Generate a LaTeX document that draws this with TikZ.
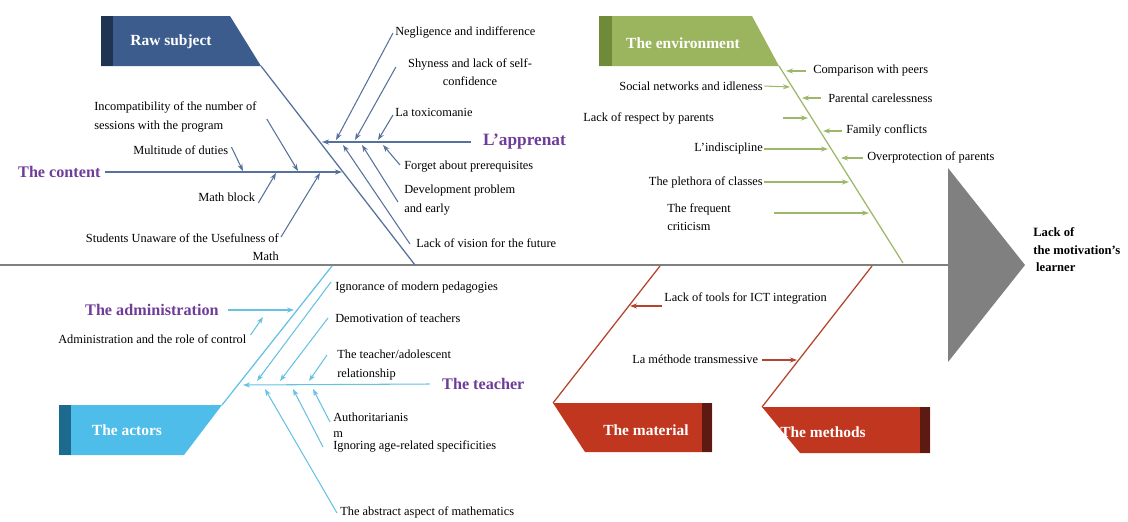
\documentclass[tikz,border=0pt]{standalone}
\usepackage{fontspec}
\setmainfont{Liberation Serif}
\usepackage{xcolor}
\usetikzlibrary{calc,arrows.meta}

\definecolor{rawblue}{HTML}{3B5C8C}
\definecolor{rawdark}{HTML}{1F3352}
\definecolor{rawline}{HTML}{56719B}
\definecolor{envgreen}{HTML}{9BB55F}
\definecolor{envdark}{HTML}{6F8B3A}
\definecolor{envline}{HTML}{9DB86A}
\definecolor{actblue}{HTML}{4FBDEA}
\definecolor{actdark}{HTML}{1C6B8F}
\definecolor{actline}{HTML}{66C1E2}
\definecolor{matred}{HTML}{C0361F}
\definecolor{matdark}{HTML}{5C1A12}
\definecolor{matline}{HTML}{B5442F}
\definecolor{headpurple}{HTML}{6F3C98}
\definecolor{spinegray}{HTML}{808080}

\begin{document}
\begin{tikzpicture}[x=0.025cm,y=-0.025cm,>={Stealth[length=5pt,width=3.6pt]},
	lbl/.style={inner sep=0pt,font=\fontsize{8.8}{13}\selectfont,align=left},
	grp/.style={inner sep=0pt,outer sep=3pt,text=headpurple,font=\fontsize{11.5}{14}\selectfont\bfseries},
	banner/.style={inner sep=0pt,text=white,font=\fontsize{11}{13}\selectfont\bfseries},
	bone/.style={line width=0.9pt},
	arr/.style={->,line width=0.75pt}]
	
	\useasboundingbox (0,0) rectangle (1128,521);
	
	% main axis and effect
	\coordinate (tail) at (0,265);
	\coordinate (T1) at (948,168);
	\coordinate (T2) at (1025,265);
	\coordinate (T3) at (948,362);
	\draw[spinegray,line width=1.4pt] (tail) -- (T1 |- tail);
	\fill[spinegray] (T1) -- (T2) -- (T3) -- cycle;
	\node[anchor=west,align=left,inner sep=0pt,font=\fontsize{9}{12.5}\selectfont\bfseries] (effect) at (1033,250) {Lack of\\the motivation’s\\\hspace{2pt}learner};
	
	% raw subject
	\fill[rawblue] (101,16) -- (230,16) -- (261,66) -- (101,66) -- cycle;
	\fill[rawdark] (101,16) rectangle (113,66);
	\node[banner] (raw) at (171,42) {Raw subject};
	\coordinate (rsA) at (261,66);
	\coordinate (rsB) at (415,265);
	\draw[rawline,bone] (rsA) -- (rsB);
	
	\node[grp,anchor=west] (content) at (14,172) {The content};
	\coordinate (contentEnd) at (342,172);
	\draw[rawline,arr] (content.east) -- (contentEnd);
	
	\node[lbl,anchor=west] (sessions) at (94,117) {Incompatibility of the number of\\sessions with the program};
	\node[lbl,anchor=west] (duties) at (133,150) {Multitude of duties};
	\node[lbl,anchor=west] (mathblock) at (198,197) {Math block};
	\node[lbl,anchor=east,align=right] (students) at (279,247) {Students Unaware of the Usefulness of\\Math};
	\coordinate (c1) at (243,171);
	\coordinate (c2) at (298,171);
	\coordinate (c3) at (276,173);
	\coordinate (c4) at (320,173);
	\draw[rawline,arr] ([shift={(3,-3)}]duties.east) -- (c1);
	\draw[rawline,arr] ([shift={(10,2)}]sessions.east) -- (c2);
	\draw[rawline,arr] ([shift={(3,6)}]mathblock.east) -- (c3);
	\draw[rawline,arr] ([shift={(2,-10)}]students.east) -- (c4);
	
	\node[grp,anchor=west,font=\fontsize{12.3}{14}\selectfont\bfseries] (learner) at (479,142) {L’apprenat};
	\coordinate (learnerEnd) at (322,142);
	\draw[rawline,arr] ([xshift=-6]learner.west) -- (learnerEnd);
	
	\node[lbl,anchor=west] (neglect) at (395,32) {Negligence and indifference};
	\node[lbl,align=center] (shyness) at (470,72) {Shyness and lack of self-\\confidence};
	\node[lbl,anchor=west] (toxico) at (395,112) {La toxicomanie};
	\node[lbl,anchor=west] (forget) at (404,167) {Forget about prerequisites};
	\node[lbl,anchor=west] (develop) at (404,200) {Development problem\\and early};
	\node[lbl,anchor=west] (vision) at (416,243) {Lack of vision for the future};
	\coordinate (l1) at (336,140);
	\coordinate (l2) at (355,140);
	\coordinate (l3) at (378,140);
	\coordinate (l4) at (383,145);
	\coordinate (l5) at (362,145);
	\coordinate (l6) at (343,145);
	\draw[rawline,arr] ([shift={(-2,1)}]neglect.west) -- (l1);
	\draw[rawline,arr] ([shift={(-12,-5)}]shyness.west) -- (l2);
	\draw[rawline,arr] ([shift={(-2,3)}]toxico.west) -- (l3);
	\draw[rawline,arr] ([shift={(-4,-2)}]forget.west) -- (l4);
	\draw[rawline,arr] ([shift={(-6,2)}]develop.west) -- (l5);
	\draw[rawline,arr] ([shift={(-6,1)}]vision.west) -- (l6);
	
	% environment
	\fill[envgreen] (599,16) -- (752,16) -- (779,66) -- (599,66) -- cycle;
	\fill[envdark] (599,16) rectangle (612,66);
	\node[banner] (env) at (683,43) {The environment};
	\coordinate (envA) at (779,66);
	\coordinate (envB) at (903,263);
	\draw[envline,bone] (envA) -- (envB);
	
	\node[lbl,anchor=east] (social) at (763,86) {Social networks and idleness};
	\node[lbl,anchor=west] (respect) at (583,118) {Lack of respect by parents};
	\node[lbl,anchor=east] (indisc) at (763,149) {L’indiscipline};
	\node[lbl,anchor=east] (plethora) at (763,182) {The plethora of classes};
	\node[lbl,anchor=west] (frequent) at (667,217) {The frequent\\criticism};
	\node[lbl,anchor=west] (peers) at (813,71) {Comparison with peers};
	\node[lbl,anchor=west] (careless) at (828,98) {Parental carelessness};
	\node[lbl,anchor=west] (family) at (846,130) {Family conflicts};
	\node[lbl,anchor=west] (overprot) at (867,157) {Overprotection of parents};
	\coordinate (e1) at (790,87);
	\coordinate (e2) at (808,118);
	\coordinate (e3) at (828,149);
	\coordinate (e4) at (849,182);
	\coordinate (e5) at (869,213);
	\coordinate (e6) at (786,71);
	\coordinate (e7) at (802,98);
	\coordinate (e8) at (823,131);
	\coordinate (e9) at (841,158);
	\draw[envline,arr] ([xshift=1]social.east) -- (e1);
	\draw[envline,arr] ([xshift=49]respect.east) -- (e2);
	\draw[envline,arr] ([xshift=1]indisc.east) -- (e3);
	\draw[envline,arr] ([xshift=1]plethora.east) -- (e4);
	\draw[envline,arr] ([shift={(43,-4)}]frequent.east) -- (e5);
	\draw[envline,arr] ([xshift=-5]peers.west) -- (e6);
	\draw[envline,arr] ([xshift=-5]careless.west) -- (e7);
	\draw[envline,arr] ([shift={(-4,1)}]family.west) -- (e8);
	\draw[envline,arr] ([shift={(-4,1)}]overprot.west) -- (e9);
	
	% actors
	\fill[actblue] (59,405) -- (222,405) -- (184,455) -- (59,455) -- cycle;
	\fill[actdark] (59,405) rectangle (71,455);
	\node[banner] (actors) at (127,430) {The actors};
	\coordinate (actA) at (222,405);
	\coordinate (actB) at (332,266);
	\draw[actline,bone] (actA) -- (actB);
	
	\node[grp,anchor=west] (admin) at (81,310) {The administration};
	\coordinate (adminEnd) at (294,310);
	\draw[actline,arr] ([xshift=4]admin.east) -- (adminEnd);
	\node[lbl,anchor=west] (control) at (58,339) {Administration and the role of control};
	\coordinate (a0) at (263,317);
	\draw[actline,arr] ([shift={(4,-4)}]control.east) -- (a0);
	
	\node[grp,anchor=west] (teacher) at (438,384) {The teacher};
	\coordinate (teacherEnd) at (243,385);
	\draw[actline,arr] ([xshift=-6]teacher.west) -- (teacherEnd);
	
	\node[lbl,anchor=west] (ignor) at (335,287) {Ignorance of modern pedagogies};
	\node[lbl,anchor=west] (demot) at (335,318) {Demotivation of teachers};
	\node[lbl,anchor=west] (adol) at (337,365) {The teacher/adolescent\\relationship};
	\node[lbl,anchor=west,font=\fontsize{8.8}{11}\selectfont] (author) at (333,425) {Authoritarianis\\m};
	\node[lbl,anchor=west] (agespec) at (333,446) {Ignoring age-related specificities};
	\node[lbl,anchor=west] (abstr) at (340,512) {The abstract aspect of mathematics};
	\coordinate (a1) at (257,381);
	\coordinate (a2) at (280,381);
	\coordinate (a3) at (309,381);
	\coordinate (a4) at (313,389);
	\coordinate (a5) at (293,389);
	\coordinate (a6) at (265,389);
	\draw[actline,arr] ([shift={(-4,-5)}]ignor.west) -- (a1);
	\draw[actline,arr] ([shift={(-7,0)}]demot.west) -- (a2);
	\draw[actline,arr] ([shift={(-10,-10)}]adol.west) -- (a3);
	\draw[actline,arr] ([shift={(-3,-3)}]author.west) -- (a4);
	\draw[actline,arr] ([shift={(-10,1)}]agespec.west) -- (a5);
	\draw[actline,arr] ([shift={(-3,1)}]abstr.west) -- (a6);
	
	% material
	\fill[matred] (553,403) -- (712,403) -- (712,452) -- (585,452) -- cycle;
	\fill[matdark] (702,403) rectangle (712,452);
	\node[banner] (material) at (646,430) {The material};
	\coordinate (matA) at (553,403);
	\coordinate (matB) at (660,266);
	\draw[matline,bone] (matA) -- (matB);
	\node[lbl,anchor=west] (ict) at (664,298) {Lack of tools for ICT integration};
	\coordinate (m1) at (630,306);
	\draw[matline,arr] ([shift={(-2,8)}]ict.west) -- (m1);
	
	% methods
	\fill[matred] (762,407) -- (930,407) -- (930,453) -- (800,453) -- cycle;
	\fill[matdark] (920,407) rectangle (930,453);
	\node[banner] (methods) at (823,432) {The methods};
	\coordinate (metA) at (762,407);
	\coordinate (metB) at (872,266);
	\draw[matline,bone] (metA) -- (metB);
	\node[lbl,anchor=west] (transm) at (632,359) {La méthode transmessive};
	\coordinate (m2) at (797,360);
	\draw[matline,arr] ([shift={(4,1)}]transm.east) -- (m2);
\end{tikzpicture}
\end{document}
